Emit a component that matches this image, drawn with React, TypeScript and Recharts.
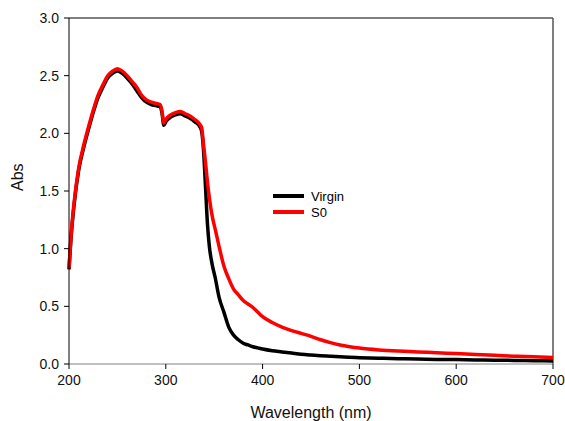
import { LineChart, Line, XAxis, YAxis, ReferenceLine } from "recharts";

const wavelengths = [
  200, 202, 205, 210, 215, 220, 225, 230, 235, 240, 245, 250, 255, 260, 265,
  270, 275, 280, 285, 290, 294, 296, 298, 300, 305, 310, 315, 320, 325, 330,
  335, 337, 339, 341, 343, 345, 348, 351, 355, 360, 365, 370, 375, 380, 385,
  390, 395, 400, 410, 420, 430, 440, 450, 460, 470, 480, 490, 500, 520, 540,
  560, 580, 600, 620, 640, 660, 680, 700,
];

const virgin = [
  0.82, 1.08, 1.36, 1.68, 1.87, 2.03, 2.18, 2.31, 2.4, 2.48, 2.52, 2.54, 2.52,
  2.48, 2.43, 2.37, 2.31, 2.27, 2.25, 2.24, 2.23, 2.18, 2.07, 2.1, 2.14, 2.16,
  2.17, 2.15, 2.13, 2.1, 2.06, 2.02, 1.85, 1.54, 1.22, 1.02, 0.86, 0.75, 0.58,
  0.45, 0.32, 0.25, 0.21, 0.18, 0.165, 0.15, 0.14, 0.13, 0.115, 0.105, 0.095,
  0.085, 0.078, 0.072, 0.067, 0.062, 0.058, 0.055, 0.05, 0.046, 0.043, 0.04,
  0.038, 0.035, 0.033, 0.031, 0.029, 0.027,
];

const s0 = [
  0.83, 1.1, 1.38, 1.7, 1.89, 2.05, 2.2, 2.33, 2.42, 2.5, 2.54, 2.56, 2.54,
  2.5, 2.45, 2.4, 2.33, 2.29, 2.27, 2.26, 2.25, 2.2, 2.09, 2.12, 2.16, 2.18,
  2.19, 2.17, 2.15, 2.12, 2.08, 2.05, 1.9, 1.75, 1.58, 1.44, 1.28, 1.17, 1.02,
  0.85, 0.74, 0.65, 0.6, 0.55, 0.52, 0.49, 0.45, 0.41, 0.36, 0.32, 0.29, 0.265,
  0.24, 0.21, 0.185, 0.165, 0.15, 0.138, 0.122, 0.112, 0.105, 0.097, 0.09,
  0.082, 0.075, 0.068, 0.062, 0.057,
];

const xTicks = [200, 300, 400, 500, 600, 700];
const yTicks = [0, 0.5, 1, 1.5, 2, 2.5, 3];

const seriesNames = ["Virgin", "S0"];
const seriesColors = ["#000000", "#ff0000"];

const data = wavelengths.map((w, i) => ({ w, virgin: virgin[i], s0: s0[i] }));

const font = "'Liberation Sans', Arial, sans-serif";

// legend sits inside the plot, so it's an overlay instead of <Legend/>
function LegendBox() {
  return (
    <div
      style={{
        position: "absolute",
        left: 273,
        top: 188,
        fontFamily: font,
        fontSize: 13,
        color: "#000",
      }}
    >
      {seriesNames.map((name, i) => (
        <div
          key={name}
          style={{ display: "flex", alignItems: "center", height: 16 }}
        >
          <div
            style={{
              width: 31,
              height: 4,
              background: seriesColors[i],
              marginRight: 7,
            }}
          />
          <span>{name}</span>
        </div>
      ))}
    </div>
  );
}

export default function App() {
  return (
    <div
      style={{
        position: "absolute",
        left: 0,
        top: 0,
        width: 565,
        height: 421,
        background: "#fff",
      }}
    >
      <LineChart
        width={565}
        height={421}
        data={data}
        margin={{ top: 18, right: 12, bottom: 0, left: 0 }}
      >
        <XAxis
          dataKey="w"
          type="number"
          domain={[200, 700]}
          ticks={xTicks}
          height={57}
          tickSize={5}
          tickMargin={6}
          stroke="#808080"
          tick={{ fill: "#111", fontSize: 14, fontFamily: font }}
          tickLine={{ stroke: "#000" }}
          label={{
            value: "Wavelength (nm)",
            position: "insideBottom",
            offset: 3,
            fill: "#111",
            fontSize: 16,
            fontFamily: font,
          }}
        />
        <YAxis
          type="number"
          domain={[0, 3]}
          ticks={yTicks}
          width={69}
          tickSize={5}
          tickMargin={5}
          stroke="#000"
          tickFormatter={(v: number) => v.toFixed(1)}
          tick={{ fill: "#111", fontSize: 14, fontFamily: font }}
          label={{
            value: "Abs",
            angle: -90,
            position: "insideLeft",
            offset: 17,
            fill: "#111",
            fontSize: 16,
            fontFamily: font,
          }}
        />
        <ReferenceLine y={3} stroke="#555" strokeWidth={1.5} />
        <ReferenceLine x={700} stroke="#555" strokeWidth={1.5} />
        <Line
          dataKey="virgin"
          name="Virgin"
          stroke={seriesColors[0]}
          strokeWidth={3.5}
          dot={false}
          type="monotone"
          isAnimationActive={false}
        />
        <Line
          dataKey="s0"
          name="S0"
          stroke={seriesColors[1]}
          strokeWidth={3.5}
          dot={false}
          type="monotone"
          isAnimationActive={false}
        />
      </LineChart>
      <LegendBox />
    </div>
  );
}
